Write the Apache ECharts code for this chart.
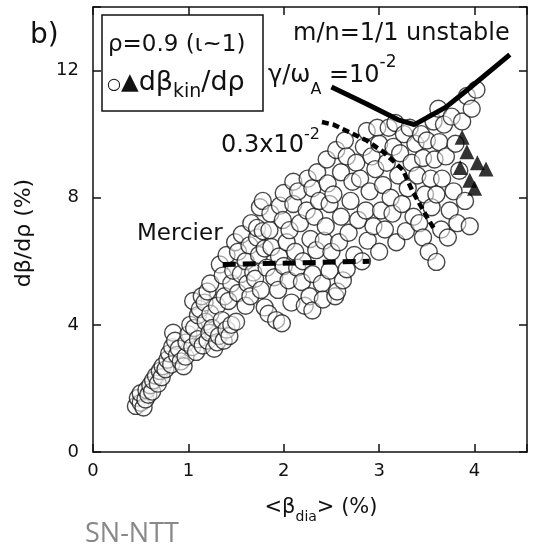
<!DOCTYPE html>
<html><head><meta charset="utf-8">
<script src="https://cdn.jsdelivr.net/npm/echarts@6/dist/echarts.min.js"></script>
<style>html,body{margin:0;padding:0;background:#fff}#c{width:534px;height:550px}</style>
</head><body><div id="c"></div>
<script>
// ---- data ----
const xTicks = [0, 1, 2, 3, 4];
const yTicks = [0, 4, 8, 12];
const openPoints = [
 [0.45,1.45],[0.47,1.7],[0.5,1.55],[0.5,1.85],[0.53,1.4],[0.55,1.65],[0.56,1.95],[0.58,1.8],[0.6,2.1],[0.62,1.9],
 [0.63,2.25],[0.66,2.4],[0.68,2.15],[0.7,2.55],[0.72,2.35],[0.73,2.7],[0.76,2.6],[0.78,2.9],[0.8,3.1],[0.82,2.75],
 [0.83,3.3],[0.84,3.75],[0.86,3.5],[0.88,3.05],[0.9,3.25],[0.92,2.85],[0.95,2.7],[0.97,3.0],[0.98,3.45],
 [1.0,3.7],[1.02,4.0],[1.04,3.3],[1.05,4.75],[1.06,3.9],[1.08,3.15],[1.1,3.55],[1.1,4.3],[1.12,4.5],[1.14,4.9],
 [1.15,3.35],[1.17,4.7],[1.18,4.1],[1.2,3.5],[1.2,5.05],[1.22,3.75],[1.23,4.35],[1.23,5.3],[1.25,3.9],[1.27,3.25],
 [1.3,3.45],[1.3,4.6],[1.32,3.65],[1.33,5.9],[1.35,4.15],[1.36,5.55],[1.37,3.5],[1.38,4.9],[1.4,3.85],[1.4,6.2],
 [1.42,4.75],[1.43,3.65],[1.45,4.0],[1.45,5.3],[1.47,5.7],[1.49,6.6],
 [1.5,4.1],[1.52,5.0],[1.52,6.3],[1.55,5.6],[1.56,6.85],[1.6,4.6],[1.6,6.0],[1.62,5.3],[1.64,6.5],[1.65,4.9],
 [1.66,7.2],[1.68,5.65],[1.7,5.45],[1.72,6.75],[1.72,7.05],[1.74,6.2],[1.75,7.7],[1.76,5.1],[1.78,7.9],[1.78,6.95],
 [1.8,4.55],[1.8,6.4],[1.82,5.8],[1.84,4.35],[1.85,6.98],[1.86,7.5],[1.87,6.45],[1.9,5.5],[1.92,4.15],[1.94,5.1],
 [1.95,6.15],[1.96,7.75],[1.98,4.05],[1.99,7.3],[2.0,5.85],[2.0,8.15],
 [2.03,6.6],[2.05,5.4],[2.06,6.98],[2.08,4.7],[2.1,8.5],[2.1,7.8],[2.12,6.3],[2.14,5.8],[2.15,8.2],[2.17,7.2],
 [2.19,5.35],[2.2,6.0],[2.22,4.6],[2.24,7.6],[2.25,8.6],[2.27,4.9],[2.28,6.7],[2.3,4.45],[2.3,5.6],[2.3,8.3],
 [2.32,7.4],[2.34,6.35],[2.35,8.8],[2.37,7.9],[2.4,5.3],[2.41,4.8],[2.42,6.65],[2.44,7.1],[2.45,9.2],[2.46,8.45],
 [2.48,5.7],[2.48,7.8],[2.5,6.3],
 [2.52,8.1],[2.54,4.9],[2.55,9.5],[2.56,5.05],[2.58,6.6],[2.6,7.4],[2.6,8.8],[2.62,5.4],[2.64,9.8],[2.66,5.75],
 [2.66,9.3],[2.68,6.9],[2.7,7.9],[2.72,8.5],[2.74,6.2],[2.76,9.1],[2.78,7.3],[2.8,8.6],[2.82,6.0],[2.84,9.6],
 [2.86,7.6],[2.87,10.1],[2.88,6.65],[2.9,8.2],[2.92,9.3],[2.94,7.1],[2.96,8.9],[2.98,10.2],[3.0,6.3],[3.0,9.7],
 [3.02,7.6],[3.04,8.4],[3.06,7.0],[3.08,9.1],[3.1,10.2],[3.12,8.0],[3.14,7.5],[3.15,9.6],[3.17,10.35],[3.18,6.6],
 [3.2,8.7],[3.22,9.4],[3.24,7.8],[3.26,10.0],[3.28,6.95],[3.3,8.3],[3.32,10.2],[3.34,9.1],[3.36,7.4],[3.38,9.7],
 [3.4,8.7],[3.42,7.2],[3.44,10.0],[3.46,9.25],[3.46,6.75],[3.48,8.1],[3.5,9.8],
 [3.52,6.3],[3.54,8.6],[3.55,7.7],[3.57,10.4],[3.58,9.2],[3.6,5.98],[3.6,8.1],[3.62,10.8],[3.63,9.75],[3.65,7.0],
 [3.66,8.6],[3.68,10.3],[3.7,9.3],[3.72,6.75],[3.74,7.6],[3.76,10.55],[3.78,8.2],[3.8,9.7],[3.82,7.2],[3.84,8.85],
 [3.87,10.4],[3.9,7.9],[3.92,11.2],[3.95,7.1],[3.97,10.8],[4.02,11.4]
];
const filledPoints = [[3.87,9.9],[3.92,9.45],[4.03,9.1],[4.12,8.9],[3.85,8.95],[3.95,8.55],[4.0,8.3]];
const unstable1e2 = [[2.5,11.48],[2.87,10.95],[3.2,10.45],[3.37,10.3],[3.7,10.85],[3.92,11.38],[4.37,12.5]];
const unstable3e3 = [[2.4,10.38],[2.52,10.3],[2.87,9.8],[3.04,9.45],[3.25,8.87],[3.35,8.2],[3.5,7.4],[3.58,7.0]];
const mercier = [[1.36,5.9],[2.9,6.0]];

const FONT = '"DejaVu Sans", "Liberation Sans", Arial, sans-serif';
const chart = echarts.init(document.getElementById('c'), null, {renderer: 'canvas'});
const axisCommon = {
  axisLine: {show: true, onZero: false, lineStyle: {color: '#111', width: 1.5}},
  axisTick: {show: true, inside: true, length: 8, lineStyle: {color: '#111', width: 1.5}},
  splitLine: {show: false}
};
chart.setOption({
  animation: false,
  backgroundColor: '#fff',
  grid: {left: 93, right: 7, top: 7, bottom: 98},
  xAxis: [
    Object.assign({type: 'value', min: 0, max: 4.55, interval: 1, position: 'bottom',
      axisLabel: {fontSize: 18, color: '#111', fontFamily: FONT, margin: 10, formatter: v => xTicks.includes(v) ? String(v) : ''}}, axisCommon),
    Object.assign({type: 'value', min: 0, max: 4.55, interval: 1, position: 'top', axisLabel: {show: false}}, axisCommon)
  ],
  yAxis: [
    Object.assign({type: 'value', min: 0, max: 14, interval: 4, position: 'left',
      axisLabel: {fontSize: 18, color: '#111', fontFamily: FONT, margin: 14, formatter: v => yTicks.includes(v) ? String(v) : ''}}, axisCommon),
    Object.assign({type: 'value', min: 0, max: 14, interval: 4, position: 'right', axisLabel: {show: false}}, axisCommon)
  ],
  series: [
    {type: 'scatter', data: openPoints, symbol: 'circle', symbolSize: 17,
     itemStyle: {color: 'rgba(255,255,255,0.65)', borderColor: '#1a1a1a', borderWidth: 1.4}, z: 2},
    {type: 'scatter', data: filledPoints, symbol: 'triangle', symbolSize: 15,
     itemStyle: {color: '#000'}, z: 3},
    {type: 'line', data: unstable1e2, showSymbol: false, symbol: 'none', smooth: false,
     lineStyle: {color: '#000', width: 5}, z: 4},
    {type: 'line', data: unstable3e3, showSymbol: false, symbol: 'none',
     lineStyle: {color: '#000', width: 4.5, type: [7, 4]}, z: 4},
    {type: 'line', data: mercier, showSymbol: false, symbol: 'none',
     lineStyle: {color: '#000', width: 5, type: [13, 7]}, z: 4}
  ],
  graphic: [
    {type: 'text', x: 30, y: 36, style: {text: 'b)', font: '28px ' + FONT, fill: '#111', textVerticalAlign: 'middle'}},
    {type: 'rect', shape: {x: 102, y: 15, width: 161, height: 96}, style: {fill: 'none', stroke: '#111', lineWidth: 1.5}},
    {type: 'text', x: 108, y: 45, style: {text: 'ρ=0.9 (ι~1)', font: '23px ' + FONT, fill: '#111', textVerticalAlign: 'middle'}},
    {type: 'text', x: 107, y: 83, style: {
      text: '{c|○}{t|▲}{a|dβ}{s|kin}{a|/dρ}', fill: '#111', textVerticalAlign: 'middle',
      rich: {c: {fontSize: 16, fontFamily: FONT, lineHeight: 38, verticalAlign: 'middle', fill: '#111', padding: [3, 0, 0, 0]},
             t: {fontSize: 23, fontFamily: FONT, lineHeight: 38, verticalAlign: 'middle', fill: '#111'},
             a: {fontSize: 27, fontFamily: FONT, lineHeight: 38, verticalAlign: 'middle', fill: '#111'},
             s: {fontSize: 19, fontFamily: FONT, lineHeight: 38, verticalAlign: 'bottom', fill: '#111'}}}},
    {type: 'text', x: 293, y: 34, style: {text: 'm/n=1/1 unstable', font: '24px ' + FONT, fill: '#111', textVerticalAlign: 'middle'}},
    {type: 'text', x: 268, y: 76, style: {
      text: '{a|γ/ω}{s|A}{a| =10}{p|-2}', fill: '#111', textVerticalAlign: 'middle',
      rich: {a: {fontSize: 24, fontFamily: FONT, lineHeight: 44, verticalAlign: 'middle', fill: '#111'},
             s: {fontSize: 16, fontFamily: FONT, lineHeight: 44, verticalAlign: 'bottom', fill: '#111'},
             p: {fontSize: 17, fontFamily: FONT, lineHeight: 44, verticalAlign: 'top', fill: '#111'}}}},
    {type: 'text', x: 221, y: 146, style: {
      text: '{a|0.3x10}{p|-2}', fill: '#111', textVerticalAlign: 'middle',
      rich: {a: {fontSize: 24, fontFamily: FONT, lineHeight: 38, verticalAlign: 'middle', fill: '#111'},
             p: {fontSize: 16, fontFamily: FONT, lineHeight: 38, verticalAlign: 'top', fill: '#111'}}}},
    {type: 'text', x: 137, y: 234, style: {text: 'Mercier', font: '23px ' + FONT, fill: '#111', textVerticalAlign: 'middle'}},
    {type: 'text', x: 24, y: 233, rotation: Math.PI / 2, style: {text: 'dβ/dρ (%)', font: '22px ' + FONT, fill: '#111', textAlign: 'center', textVerticalAlign: 'middle'}},
    {type: 'text', x: 321, y: 508, style: {
      text: '{a|<β}{s|dia}{a|> (%)}', fill: '#111', textAlign: 'center', textVerticalAlign: 'middle',
      rich: {a: {fontSize: 21, fontFamily: FONT, lineHeight: 32, verticalAlign: 'middle', fill: '#111'},
             s: {fontSize: 14, fontFamily: FONT, lineHeight: 32, verticalAlign: 'bottom', fill: '#111'}}}},
    {type: 'text', x: 85, y: 534, style: {text: 'SN-NTT', font: '27px "Open Sans", sans-serif', fill: '#888', textVerticalAlign: 'middle'}}
  ]
});
</script></body></html>
